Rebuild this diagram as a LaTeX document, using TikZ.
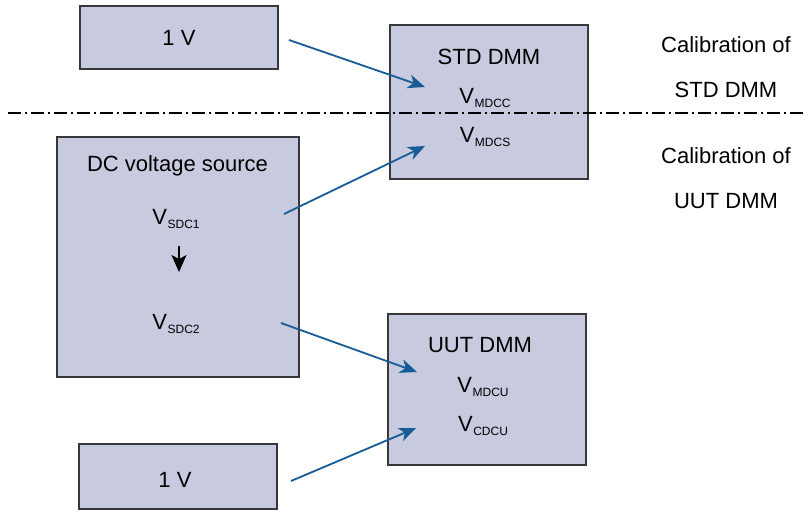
\documentclass[tikz,border=0pt]{standalone}
\usepackage{fontspec}
\setmainfont{Liberation Sans}
\usetikzlibrary{arrows.meta}
\definecolor{boxfill}{RGB}{200,202,223}
\definecolor{arrowblue}{RGB}{24,92,150}
\definecolor{boxline}{RGB}{55,55,60}
\newcommand\vsub[1]{V\kern0.5pt\raisebox{-4pt}{\fontsize{12}{12}\selectfont #1}}
\begin{document}
\begin{tikzpicture}[x=1pt,y=-1pt,
  blk/.style={draw=boxline,fill=boxfill,line width=1.3pt,inner sep=0pt},
  lbl/.style={font=\fontsize{22}{26}\selectfont,inner sep=0pt,anchor=base},
  conn/.style={draw=arrowblue,line width=1.8pt,-{Stealth[length=17pt,width=14pt,inset=5pt]}},
  darr/.style={draw=black,line width=1.5pt,-{Stealth[length=17pt,width=15pt,inset=4pt]}}]
\useasboundingbox (0,0) rectangle (811,513);
% boxes
\node[blk,minimum width=198pt,minimum height=63pt] (v1top) at (179,37.5) {};
\node[blk,minimum width=198pt,minimum height=154pt] (std) at (489,102) {};
\node[blk,minimum width=242pt,minimum height=240pt] (dcs) at (178,257) {};
\node[blk,minimum width=198pt,minimum height=151pt] (uut) at (487,389.5) {};
\node[blk,minimum width=198pt,minimum height=65pt] (v1bot) at (178,476.5) {};
% separator
\coordinate (sepL) at (8,113);
\coordinate (sepR) at (806,113);
\draw[line width=1.4pt,dash pattern=on 13pt off 4pt on 2pt off 4pt] (sepL) -- (sepR);
% texts
\node[lbl] (t1top) at (179,46) {1 V};
\node[lbl] (t1bot) at (175,487) {1 V};
\node[lbl] (tstd) at (489,65) {STD DMM};
\node[lbl] (tmdcc) at (485,104) {\vsub{MDCC}};
\node[lbl] (tmdcs) at (485,143) {\vsub{MDCS}};
\node[lbl] (cal1) at (726,53) {Calibration of};
\node[lbl] (cal1b) at (726,98) {STD DMM};
\node[lbl] (cal2) at (726,164) {Calibration of};
\node[lbl] (cal2b) at (726,209) {UUT DMM};
\node[lbl] (tdcs) at (177.5,172) {DC voltage source};
\node[lbl] (tsdc1) at (176,225) {\vsub{SDC1}};
\node[lbl] (tsdc2) at (176,329) {\vsub{SDC2}};
\node[lbl] (tuut) at (480,352) {UUT DMM};
\node[lbl] (tmdcu) at (483,392) {\vsub{MDCU}};
\node[lbl] (tcdcu) at (483,431) {\vsub{CDCU}};
% inner down arrow
\coordinate (dA) at (179,246);
\coordinate (dB) at (179,272);
\draw[darr] (dA) -- (dB);
% blue connectors
\coordinate (a1s) at (289,40);  \coordinate (a1e) at (425,87);
\coordinate (a2s) at (284,214); \coordinate (a2e) at (425,146);
\coordinate (a3s) at (281,323); \coordinate (a3e) at (417,372);
\coordinate (a4s) at (291,481); \coordinate (a4e) at (416,428);
\draw[conn] (a1s) -- (a1e);
\draw[conn] (a2s) -- (a2e);
\draw[conn] (a3s) -- (a3e);
\draw[conn] (a4s) -- (a4e);
\end{tikzpicture}
\end{document}
